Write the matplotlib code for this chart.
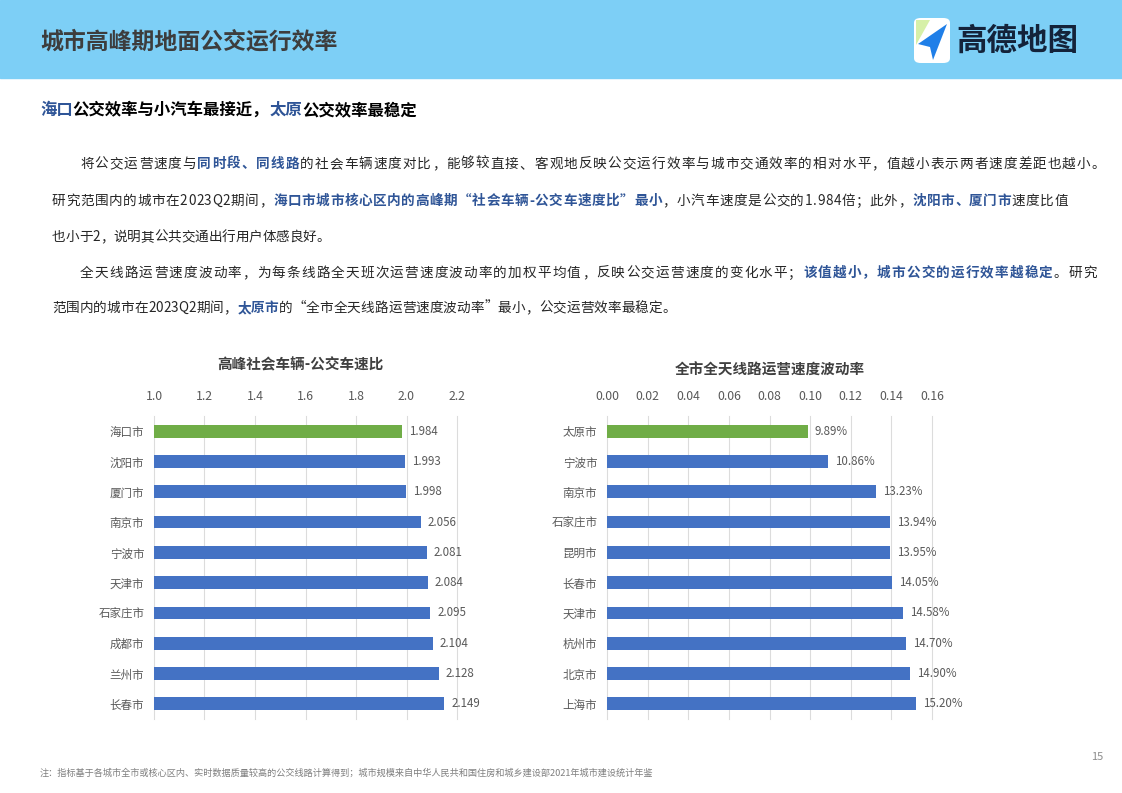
import matplotlib
matplotlib.use("Agg")
import matplotlib.pyplot as plt
from matplotlib.patches import Rectangle, FancyBboxPatch, Polygon

plt.rcParams['font.family'] = ['Noto Sans CJK SC', 'DejaVu Sans']

# Chart data
speed_cities = ["海口市", "沈阳市", "厦门市", "南京市", "宁波市",
                "天津市", "石家庄市", "成都市", "兰州市", "长春市"]
speed_ratio = [1.984, 1.993, 1.998, 2.056, 2.081, 2.084, 2.095, 2.104, 2.128, 2.149]
speed_ticks = [1.0, 1.2, 1.4, 1.6, 1.8, 2.0, 2.2]

vol_cities = ["太原市", "宁波市", "南京市", "石家庄市", "昆明市",
              "长春市", "天津市", "杭州市", "北京市", "上海市"]
vol_rate = [0.0989, 0.1086, 0.1323, 0.1394, 0.1395, 0.1405, 0.1458, 0.1470, 0.1490, 0.1520]
vol_ticks = [0.00, 0.02, 0.04, 0.06, 0.08, 0.10, 0.12, 0.14, 0.16]

W, H = 1122, 793
BLUE = "#4472c4"
GREEN = "#70ad47"
HL = "#2f5597"
TXT = "#262626"
GRAY = "#595959"

fig = plt.figure(figsize=(W / 100, H / 100), dpi=100)
renderer = fig.canvas.get_renderer()


def fx(x):
    return x / W


def fy(y):
    return 1 - y / H


# Header band
fig.patches.append(Rectangle((0, fy(78)), 1, 78 / H, transform=fig.transFigure,
                             color="#7dcff6", zorder=0))
fig.text(fx(40), fy(42), "城市高峰期地面公交运行效率", fontsize=16.5, fontweight="bold",
         color="#3d3d3d", va="center")

# Logo
fig.patches.append(FancyBboxPatch((fx(914), fy(63)), 36 / W, 45 / H,
                                  boxstyle="round,pad=0,rounding_size=0.006",
                                  transform=fig.transFigure, fc="white", ec="none"))
fig.patches.append(Polygon([(fx(916), fy(20)), (fx(930), fy(20)), (fx(916), fy(45))],
                           closed=True, transform=fig.transFigure, fc="#d6f0a8", ec="none"))
fig.patches.append(Polygon([(fx(947), fy(24)), (fx(918), fy(44)), (fx(930), fy(47)), (fx(933), fy(60))],
                           closed=True, transform=fig.transFigure, fc="#1f7fe8", ec="none"))
fig.text(fx(956), fy(41), "高德地图", fontsize=22, fontweight="bold", color="#14233a", va="center")


def runs(x, y, parts, size):
    for s, color, weight in parts:
        t = fig.text(fx(x), fy(y), s, fontsize=size, color=color, fontweight=weight, va="center")
        x += t.get_window_extent(renderer).width


def justified(x, y, parts, size, end):
    # measure each character, then spread the spare room evenly
    chars = []
    for s, color, weight in parts:
        for c in s:
            t = fig.text(0, 0, c, fontsize=size, color=color, fontweight=weight, va="baseline")
            chars.append((t, t.get_window_extent(renderer).width))
    total = sum(w for _, w in chars)
    gap = (end - x - total) / max(len(chars) - 1, 1)
    for t, w in chars:
        t.set_position((fx(x), fy(y + 5)))
        x += w + gap


# Subtitle
runs(40, 110, [("海口", HL, "bold"), ("公交效率与小汽车最接近，", "black", "bold"),
               ("太原", HL, "bold"), ("公交效率最稳定", "black", "bold")], 11.8)

N = (TXT, "normal")
B = (HL, "bold")
paragraph = [
    (80, 163, 1105, [("将公交运营速度与", *N), ("同时段、同线路", *B),
                     ("的社会车辆速度对比，能够较直接、客观地反映公交运行效率与城市交通效率的相对水平，值越小表示两者速度差距也越小。", *N)]),
    (52, 200, 1068, [("研究范围内的城市在2023Q2期间，", *N), ("海口市城市核心区内的高峰期“社会车辆-公交车速度比”最小", *B),
                     ("，小汽车速度是公交的1.984倍；此外，", *N), ("沈阳市、厦门市", *B), ("速度比值", *N)]),
    (52, 236, 330, [("也小于2，说明其公共交通出行用户体感良好。", *N)]),
    (80, 272, 1097, [("全天线路运营速度波动率，为每条线路全天班次运营速度波动率的加权平均值，反映公交运营速度的变化水平；", *N),
                     ("该值越小，城市公交的运行效率越稳定", *B), ("。研究", *N)]),
    (52, 307, 676, [("范围内的城市在2023Q2期间，", *N), ("太原市", *B),
                    ("的“全市全天线路运营速度波动率”最小，公交运营效率最稳定。", *N)]),
]
for x, y, end, parts in paragraph:
    justified(x, y, parts, 9.8, end)


def bar_chart(left, right, cities, values, ticks, lims, labels, tick_fmt, title, title_x, title_y):
    ax = fig.add_axes([fx(left), fy(719), (right - left) / W, 303 / H])
    ypos = list(range(len(cities)))
    colors = [GREEN] + [BLUE] * (len(cities) - 1)
    ax.barh(ypos, values, height=0.42, color=colors, zorder=3)
    ax.set_xlim(*lims)
    ax.set_ylim(len(cities) - 0.5, -0.5)
    ax.set_xticks(ticks)
    ax.set_xticklabels([tick_fmt.format(t) for t in ticks])
    ax.set_yticks(ypos)
    ax.set_yticklabels(cities)
    ax.xaxis.tick_top()
    ax.tick_params(axis="x", length=0, pad=9, labelsize=8.8, labelcolor=GRAY)
    ax.tick_params(axis="y", length=0, pad=7, labelsize=8.3, labelcolor=GRAY)
    ax.grid(axis="x", color="#dcdcdc", lw=0.8, zorder=0, clip_on=False)
    ax.set_axisbelow(True)
    for s in ax.spines.values():
        s.set_visible(False)
    for yy, v, lab in zip(ypos, values, labels):
        ax.annotate(lab, (v, yy), xytext=(5, 0), textcoords="offset points",
                    va="center", ha="left", fontsize=8.3, color=GRAY)
    fig.text(fx(title_x), fy(title_y), title, fontsize=10.5, fontweight="bold",
             color="#404040", ha="center", va="center")
    return ax


bar_chart(154, 457, speed_cities, speed_ratio, speed_ticks, (1.0, 2.2),
          [f"{v:.3f}" for v in speed_ratio], "{:.1f}", "高峰社会车辆-公交车速比", 300, 364)
bar_chart(607, 932, vol_cities, vol_rate, vol_ticks, (0.0, 0.16),
          [f"{v * 100:.2f}%" for v in vol_rate], "{:.2f}", "全市全天线路运营速度波动率", 770, 370)

# Footer
fig.text(fx(1097), fy(757), "15", fontsize=8, color="#8c8c8c", ha="center", va="center")
fig.text(fx(40), fy(773),
         "注：指标基于各城市全市或核心区内、实时数据质量较高的公交线路计算得到；城市规模来自中华人民共和国住房和城乡建设部2021年城市建设统计年鉴",
         fontsize=6.6, color="#7f7f7f", va="center")

fig.savefig("out.png", dpi=100)
